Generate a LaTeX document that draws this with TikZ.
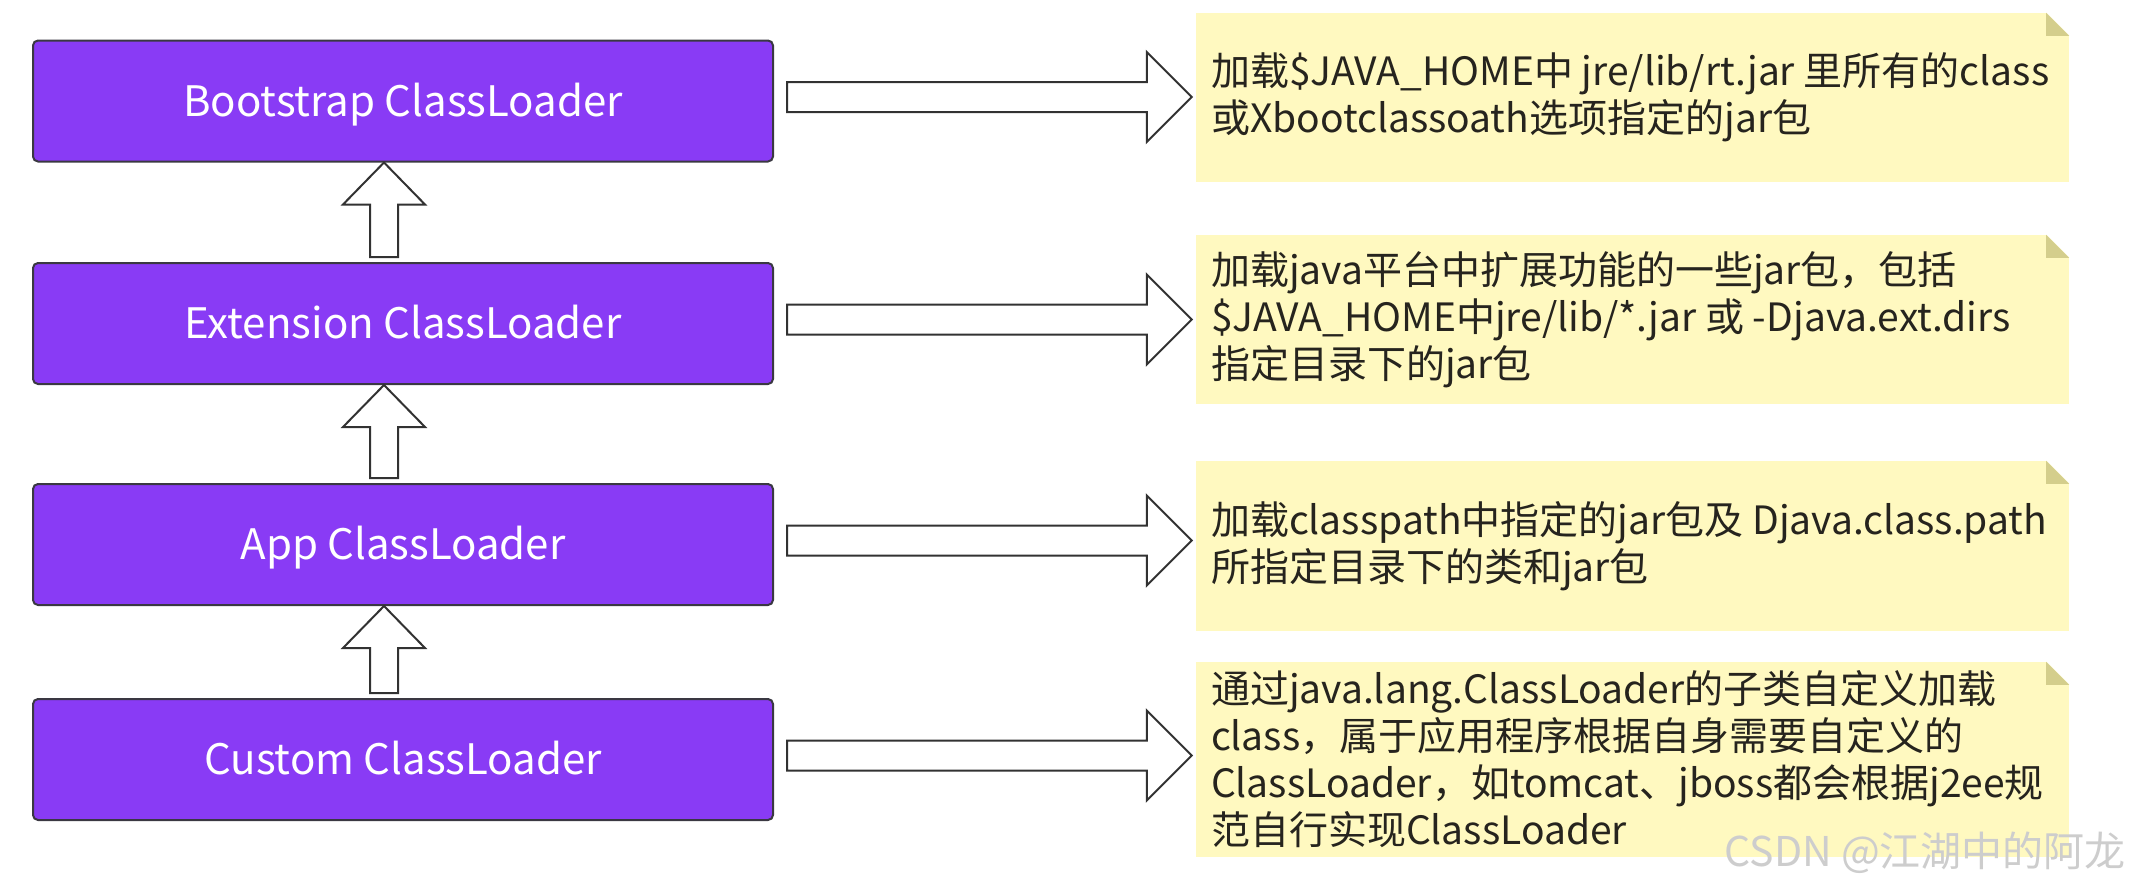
\documentclass[tikz,border=0pt]{standalone}
\usepackage{fontspec}
\setmainfont{Noto Sans CJK SC}
\usetikzlibrary{calc}
\definecolor{loaderfill}{RGB}{137,59,245}
\definecolor{loaderline}{RGB}{58,56,66}
\definecolor{notefill}{RGB}{255,249,192}
\definecolor{notefold}{RGB}{212,206,140}
\definecolor{notetext}{RGB}{38,36,30}
\definecolor{arrowline}{RGB}{50,50,50}
\definecolor{markgray}{RGB}{205,205,205}
% centre the capitals of a loader name on its box
\newcommand{\loaderlabel}[1]{\raisebox{-15pt}[0pt][0pt]{#1}}
\begin{document}
\begin{tikzpicture}[x=1pt,y=1pt,
  loader/.style={draw=loaderline, line width=2pt, fill=loaderfill,
    rounded corners=5pt, minimum width=740pt, minimum height=121pt,
    inner sep=0pt, text=white, font=\fontsize{42}{50}\selectfont},
  note/.style={fill=notefill, minimum width=873pt, inner sep=0pt},
  notetxt/.style={anchor=west, align=left, inner sep=0pt, text=notetext,
    font=\fontsize{39}{47}\selectfont},
  blockarrow/.style={draw=arrowline, line width=2pt, fill=white, line join=miter},
]
\useasboundingbox[fill=white] (0,0) rectangle (2134,-884);

% class loader chain
\node[loader] (boot)   at (403,-101)   {\loaderlabel{Bootstrap ClassLoader}};
\node[loader] (ext)    at (403,-323.5) {\loaderlabel{Extension ClassLoader}};
\node[loader] (app)    at (403,-544.5) {\loaderlabel{App ClassLoader}};
\node[loader] (custom) at (403,-759.5) {\loaderlabel{Custom ClassLoader}};

% sticky notes
\node[note, minimum height=169pt] (n1) at (1632.5,-97.5) {};
\node[note, minimum height=169pt] (n2) at (1632.5,-319.5) {};
\node[note, minimum height=170pt] (n3) at (1632.5,-546) {};
\node[note, minimum height=195pt] (n4) at (1632.5,-759.5) {};
\foreach \n in {n1,n2,n3,n4} {
  \fill[white] ($(\n.north east)+(-23,0.5)$) -- ($(\n.north east)+(0.5,0.5)$) -- ($(\n.north east)+(0.5,-23)$) -- cycle;
  \fill[notefold] ($(\n.north east)+(-23,0)$) -- ($(\n.north east)+(0,-23)$) -- ($(\n.north east)+(-23,-23)$) -- cycle;
}

\node[notetxt] (t1) at ($(n1.west)+(15,0)$)
  {加载\$JAVA\_HOME中 jre/lib/rt.jar 里所有的class\\或Xbootclassoath选项指定的jar包};
\node[notetxt] (t2) at ($(n2.west)+(15,0)$)
  {加载java平台中扩展功能的一些jar包，包括\\\$JAVA\_HOME中jre/lib/*.jar 或 -Djava.ext.dirs\\指定目录下的jar包};
\node[notetxt] (t3) at ($(n3.west)+(15,0)$)
  {加载classpath中指定的jar包及 Djava.class.path\\所指定目录下的类和jar包};
\node[notetxt] (t4) at ($(n4.west)+(15,0)$)
  {通过java.lang.ClassLoader的子类自定义加载\\class，属于应用程序根据自身需要自定义的\\ClassLoader，如tomcat、jboss都会根据j2ee规\\范自行实现ClassLoader};

% parent delegation arrows
\foreach \lo/\hi in {ext/boot, app/ext, custom/app} {
  \draw[blockarrow] let \p1=($(\lo.north)+(-19pt,0)$), \p2=($(\hi.south)+(-19pt,0)$) in
    (\x1-14pt,\y1+5pt) -- (\x1-14pt,\y2-42pt) -- (\x1-41pt,\y2-42pt) -- (\x2,\y2)
    -- (\x1+41pt,\y2-42pt) -- (\x1+14pt,\y2-42pt) -- (\x1+14pt,\y1+5pt) -- cycle;
}

% loader to scope arrows
\foreach \lo/\nt in {boot/n1, ext/n2, app/n3, custom/n4} {
  \draw[blockarrow] let \p1=($(\lo.east)+(0,4pt)$), \p2=(\nt.west) in
    (\x1+13pt,\y1+15pt) -- (\x2-49pt,\y1+15pt) -- (\x2-49pt,\y1+45pt) -- (\x2-4pt,\y1)
    -- (\x2-49pt,\y1-45pt) -- (\x2-49pt,\y1-15pt) -- (\x1+13pt,\y1-15pt) -- cycle;
}

\node[anchor=east, inner sep=0pt, text=markgray, font=\fontsize{41}{41}\selectfont]
  (mark) at (2126,-853) {CSDN @江湖中的阿龙};
\end{tikzpicture}
\end{document}
